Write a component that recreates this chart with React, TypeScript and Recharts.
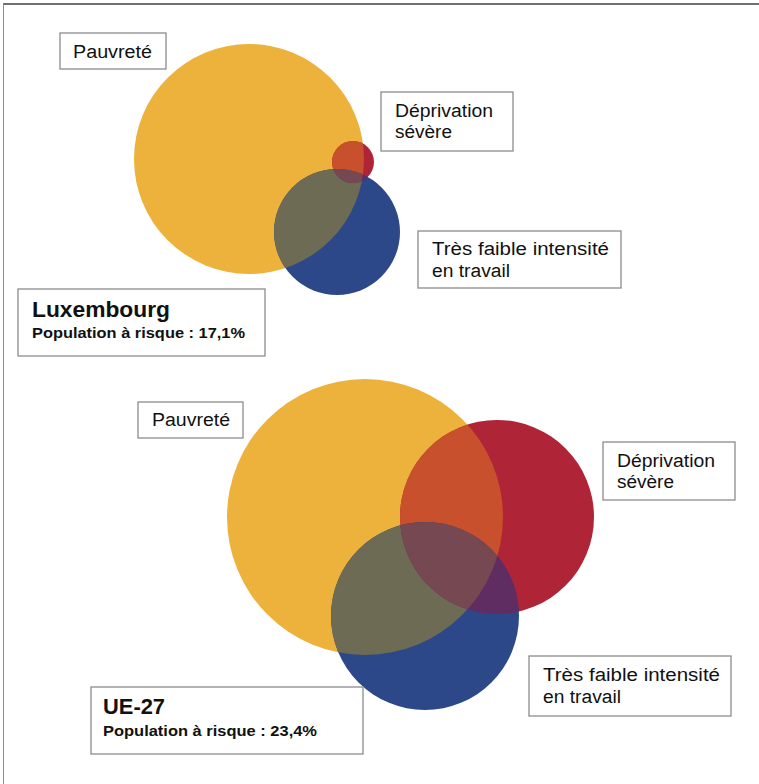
import React from 'react';
import { ScatterChart, Scatter, XAxis, YAxis, ZAxis } from 'recharts';

// set keys: P = pauvreté, D = déprivation sévère, T = très faible intensité en travail
const setKeys = ['P', 'D', 'T'];

// Luxembourg circles (layout units, 1 unit = 1px)
const luxCenterX = [249, 353, 337];
const luxCenterY = [159, 162, 232];
const luxRadius = [115, 21, 63];

// UE-27 circles
const ueCenterX = [365, 497, 425];
const ueCenterY = [517, 517, 616];
const ueRadius = [138, 97, 94];

const groupTitles = ['Luxembourg', 'UE-27'];
const groupRisk = ['17,1%', '23,4%'];

const circleColors: Record<string, string> = { P: '#EDB23B', D: '#AF2436', T: '#2D4889' };
const overlapColors: Record<string, string> = {
  PD: '#C8502D',
  PT: '#6E6B55',
  DT: '#5F2D62',
  PDT: '#754852',
};
const overlapSets = ['PD', 'PT', 'DT', 'PDT'];

const W = 759;
const H = 784;
const FONT = '"Liberation Sans", Arial, Helvetica, sans-serif';

const buildCircles = (group: string, xs: number[], ys: number[], rs: number[]) =>
  setKeys.map((k, i) => ({ id: `${group}-${k}`, key: k, x: xs[i], y: ys[i], area: rs[i] * rs[i] }));

const luxCircles = buildCircles('lux', luxCenterX, luxCenterY, luxRadius);
const ueCircles = buildCircles('ue', ueCenterX, ueCenterY, ueRadius);
const allCircles = [...luxCircles, ...ueCircles];

// an overlap is the last set's circle clipped by the other sets' circles
const buildOverlaps = (group: string, circles: typeof luxCircles) =>
  overlapSets.map((combo) => {
    const keys = combo.split('');
    const base = circles.find((c) => c.key === keys[keys.length - 1])!;
    return {
      ...base,
      id: `${group}-${combo}`,
      combo,
      clips: keys.slice(0, -1).map((k) => `${group}-${k}`),
    };
  });

const allOverlaps = [...buildOverlaps('lux', luxCircles), ...buildOverlaps('ue', ueCircles)];
const pairOverlaps = allOverlaps.filter((o) => o.combo.length === 2);
const tripleOverlaps = allOverlaps.filter((o) => o.combo.length === 3);

// label boxes (annotation layout)
const labelBoxes = [
  { x: 60, y: 33, w: 106, h: 36, lines: [{ t: 'Pauvreté', dx: 13, dy: 25, len: 79 }] },
  {
    x: 381, y: 92, w: 132, h: 59,
    lines: [{ t: 'Déprivation', dx: 14, dy: 25, len: 98 }, { t: 'sévère', dx: 14, dy: 46, len: 57 }],
  },
  {
    x: 418, y: 231, w: 203, h: 57,
    lines: [{ t: 'Très faible intensité', dx: 14, dy: 24, len: 177 }, { t: 'en travail', dx: 14, dy: 46, len: 78 }],
  },
  {
    x: 18, y: 289, w: 247, h: 67,
    lines: [
      { t: groupTitles[0], dx: 14, dy: 28, len: 138, size: 22, bold: true },
      { t: `Population à risque : ${groupRisk[0]}`, dx: 14, dy: 49, len: 213, size: 15.5, bold: true },
    ],
  },
  { x: 138, y: 402, w: 105, h: 36, lines: [{ t: 'Pauvreté', dx: 14, dy: 24, len: 78 }] },
  {
    x: 603, y: 442, w: 132, h: 58,
    lines: [{ t: 'Déprivation', dx: 14, dy: 25, len: 98 }, { t: 'sévère', dx: 14, dy: 46, len: 57 }],
  },
  {
    x: 529, y: 656, w: 202, h: 60,
    lines: [{ t: 'Très faible intensité', dx: 14, dy: 25, len: 177 }, { t: 'en travail', dx: 14, dy: 47, len: 78 }],
  },
  {
    x: 91, y: 687, w: 272, h: 67,
    lines: [
      { t: groupTitles[1], dx: 12, dy: 27, len: 62, size: 22, bold: true },
      { t: `Population à risque : ${groupRisk[1]}`, dx: 12, dy: 49, len: 214, size: 15.5, bold: true },
    ],
  },
];

const radiusOf = (p: any) => (p.width ? p.width / 2 : Math.sqrt((p.size || 0) / Math.PI));

const CircleShape = (props: any) => {
  const { cx, cy, payload } = props;
  const r = radiusOf(props);
  return (
    <g>
      <defs>
        <clipPath id={`clip-${payload.id}`}>
          <circle cx={cx} cy={cy} r={r} />
        </clipPath>
      </defs>
      <circle cx={cx} cy={cy} r={r} fill={circleColors[payload.key]} />
    </g>
  );
};

const OverlapShape = (props: any) => {
  const { cx, cy, payload } = props;
  const r = radiusOf(props);
  let node: React.ReactNode = <circle cx={cx} cy={cy} r={r} fill={overlapColors[payload.combo]} />;
  payload.clips.forEach((c: string) => {
    node = <g clipPath={`url(#clip-${c})`}>{node}</g>;
  });
  return <g>{node}</g>;
};

const LabelShape = (props: any) => {
  const { cx, cy, payload } = props;
  return (
    <g>
      <rect x={cx} y={cy} width={payload.w} height={payload.h} fill="#fff" stroke="#8c8c8c" strokeWidth={1.3} />
      {payload.lines.map((l: any, i: number) => (
        <text
          key={i}
          x={cx + l.dx}
          y={cy + l.dy}
          fontFamily={FONT}
          fontSize={l.size || 18}
          fontWeight={l.bold ? 700 : 400}
          fill="#111"
          textLength={l.len}
          lengthAdjust="spacingAndGlyphs"
        >
          {l.t}
        </text>
      ))}
    </g>
  );
};

export default function App() {
  return (
    <div style={{ position: 'absolute', left: 0, top: 0, width: W, height: H, background: '#fff' }}>
      <div
        style={{
          position: 'absolute',
          left: 3,
          top: 3,
          width: W - 3,
          height: H - 3,
          borderTop: '2px solid #707070',
          borderLeft: '1px solid #8a8a8a',
          boxSizing: 'border-box',
        }}
      />
      <div style={{ position: 'absolute', left: 0, top: 0 }}>
        <ScatterChart width={W} height={H} margin={{ top: 0, right: 0, bottom: 0, left: 0 }}>
          <XAxis type="number" dataKey="x" domain={[0, W]} hide />
          <YAxis type="number" dataKey="y" domain={[0, H]} reversed hide />
          <ZAxis type="number" dataKey="area" domain={[0, 40000]} range={[0, Math.PI * 40000]} />
          <Scatter data={allCircles} shape={<CircleShape />} isAnimationActive={false} />
          <Scatter data={pairOverlaps} shape={<OverlapShape />} isAnimationActive={false} />
          <Scatter data={tripleOverlaps} shape={<OverlapShape />} isAnimationActive={false} />
          <Scatter data={labelBoxes} shape={<LabelShape />} isAnimationActive={false} />
        </ScatterChart>
      </div>
    </div>
  );
}
